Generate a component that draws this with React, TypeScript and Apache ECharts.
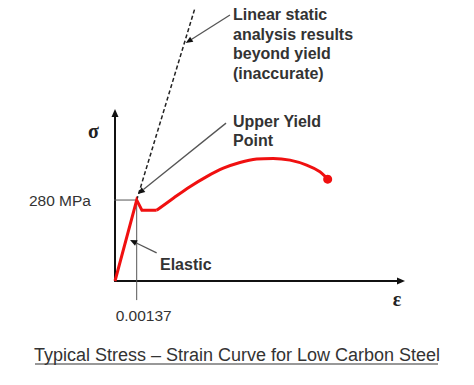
import React, { useEffect, useRef } from 'react';
import * as echarts from 'echarts';

// Data (strain [-], stress [MPa])
const yieldStrain = 0.00137;
const yieldStress = 280;
const strainElastic = [0, 0.00137, 0.0017, 0.00263];
const stressElastic = [0, 280, 245, 245];
const strainHardening = [0.00263, 0.00368, 0.00473, 0.00579, 0.00684, 0.00789, 0.00895, 0.00999, 0.01105, 0.0121, 0.01294, 0.01343];
const stressHardening = [245, 286, 326, 361, 390, 410, 422, 424, 418, 401, 378, 352];
const strainLinearExt = [0.00137, 0.00505];
const stressLinearExt = [280, 944];
const strainLeft = -0.00145; // extent of the 280 MPa guide
const stressBelow = -66; // extent of the 0.00137 guide
// leader arrows: [fromStrain, fromStress, toStrain, toStress]
const leaders = [
  [0.00726, 920, 0.00447, 823],
  [0.00701, 546, 0.00145, 301],
  [0.00263, 97, 0.00095, 142],
];
const xMax = 0.01806;
const yMax = 581;
const xTickLabels = ['0.00137'];
const yTickLabels = ['280 MPa'];
const titleText = 'Typical Stress \u2013 Strain Curve for Low Carbon Steel';

const SANS = '"Liberation Sans", Arial, sans-serif';
const SERIF = '"Liberation Serif", "Times New Roman", serif';
const TXT = '#333333';

export default function App() {
  const ref = useRef<HTMLDivElement>(null);
  useEffect(() => {
    document.body.style.margin = '0';
    const chart = echarts.init(ref.current!, null, { renderer: 'svg' });
    const zip = (xs: number[], ys: number[]) => xs.map((x, i) => [x, ys[i]]);
    const hardening = zip(strainHardening, stressHardening).map((p, i, arr) =>
      i === arr.length - 1 ? { value: p, symbol: 'circle', symbolSize: 9 } : { value: p }
    );
    const option: any = {
      animation: false,
      title: {
        text: titleText,
        left: 'center',
        top: 341,
        textStyle: { fontSize: 18, fontWeight: 'normal', color: TXT, fontFamily: SANS },
      },
      grid: { left: 115, right: 73, top: 113, bottom: 104, containLabel: false },
      xAxis: {
        type: 'value',
        min: 0,
        max: xMax,
        axisLine: {
          show: true, symbol: ['none', 'triangle'], symbolSize: [7, 8],
          lineStyle: { color: '#111', width: 2 },
        },
        axisTick: { show: false },
        splitLine: { show: false },
        axisLabel: {
          customValues: [yieldStrain],
          formatter: () => xTickLabels[0],
          margin: 26,
          fontSize: 15.5,
          color: TXT,
          fontFamily: SANS,
          padding: [0, 0, 0, 14],
        },
      },
      yAxis: {
        type: 'value',
        min: 0,
        max: yMax,
        name: 'σ',
        nameLocation: 'end',
        nameGap: -17.5,
        nameTextStyle: {
          fontFamily: SERIF, fontWeight: 'bold', fontSize: 20, color: '#222',
          align: 'right', verticalAlign: 'middle', padding: [0, 16, 0, 0],
        },
        axisLine: {
          show: true, symbol: ['none', 'triangle'], symbolSize: [7, 8],
          lineStyle: { color: '#111', width: 2 },
        },
        axisTick: { show: false },
        splitLine: { show: false },
        axisLabel: {
          customValues: [yieldStress],
          formatter: () => yTickLabels[0],
          margin: 24,
          fontSize: 15.5,
          color: TXT,
          fontFamily: SANS,
        },
      },
      series: [
        {
          name: 'guide-stress',
          type: 'line',
          clip: false,
          symbol: 'none',
          silent: true,
          data: [[strainLeft, yieldStress], [yieldStrain, yieldStress]],
          lineStyle: { color: '#555', width: 1 },
          z: 1,
        },
        {
          name: 'guide-strain',
          type: 'line',
          clip: false,
          symbol: 'none',
          silent: true,
          data: [[yieldStrain, yieldStress], [yieldStrain, stressBelow]],
          lineStyle: { color: '#555', width: 1 },
          z: 1,
        },
        {
          name: 'Linear extension',
          type: 'line',
          clip: false,
          symbol: 'none',
          data: zip(strainLinearExt, stressLinearExt),
          lineStyle: { color: '#222', width: 1.5, type: [4, 2.5] },
          z: 2,
        },
        {
          name: 'Elastic',
          type: 'line',
          clip: false,
          symbol: 'none',
          data: zip(strainElastic, stressElastic),
          lineStyle: { color: '#f01010', width: 3, join: 'miter' },
          z: 3,
        },
        {
          name: 'Hardening',
          type: 'line',
          clip: false,
          smooth: 0.35,
          showSymbol: true,
          symbol: 'none',
          data: hardening,
          itemStyle: { color: '#f01010' },
          lineStyle: { color: '#f01010', width: 3 },
          z: 3,
        },
        {
          name: 'leaders',
          type: 'custom',
          clip: false,
          silent: true,
          encode: { x: [0, 2], y: [1, 3] },
          data: leaders,
          renderItem: (params: any, api: any) => {
            const p1 = api.coord([api.value(0), api.value(1)]);
            const p2 = api.coord([api.value(2), api.value(3)]);
            const dx = p2[0] - p1[0];
            const dy = p2[1] - p1[1];
            const len = Math.sqrt(dx * dx + dy * dy);
            const ux = dx / len;
            const uy = dy / len;
            const aL = 7;
            const aW = 3;
            const bx = p2[0] - ux * aL;
            const by = p2[1] - uy * aL;
            return {
              type: 'group',
              children: [
                {
                  type: 'line',
                  shape: { x1: p1[0], y1: p1[1], x2: bx, y2: by },
                  style: { stroke: '#555', lineWidth: 1.3 },
                },
                {
                  type: 'polygon',
                  shape: {
                    points: [
                      [p2[0], p2[1]],
                      [bx - uy * aW, by + ux * aW],
                      [bx + uy * aW, by - ux * aW],
                    ],
                  },
                  style: { fill: '#111' },
                },
              ],
            };
          },
          z: 4,
        },
      ],
      graphic: [
        {
          type: 'text',
          left: 233,
          top: 5,
          style: {
            text: 'Linear static\nanalysis results\nbeyond yield\n(inaccurate)',
            font: `bold 16px ${SANS}`,
            lineHeight: 19.5,
            fill: TXT,
          },
        },
        {
          type: 'text',
          left: 233,
          top: 112,
          style: {
            text: 'Upper Yield\nPoint',
            font: `bold 16px ${SANS}`,
            lineHeight: 19,
            fill: TXT,
          },
        },
        {
          type: 'text',
          left: 160,
          top: 255,
          style: {
            text: 'Elastic',
            font: `bold 16px ${SANS}`,
            lineHeight: 18,
            fill: TXT,
          },
        },
        {
          type: 'text',
          x: 397,
          y: 299,
          style: {
            text: 'ε',
            font: `bold 20px ${SERIF}`,
            fill: '#222',
            align: 'center',
            verticalAlign: 'middle',
          },
        },
        {
          type: 'line',
          shape: { x1: 35, y1: 364, x2: 438, y2: 364 },
          style: { stroke: TXT, lineWidth: 1.2 },
        },
      ],
    };
    chart.setOption(option);
    return () => chart.dispose();
  }, []);
  return <div ref={ref} style={{ width: 474, height: 385 }} />;
}
